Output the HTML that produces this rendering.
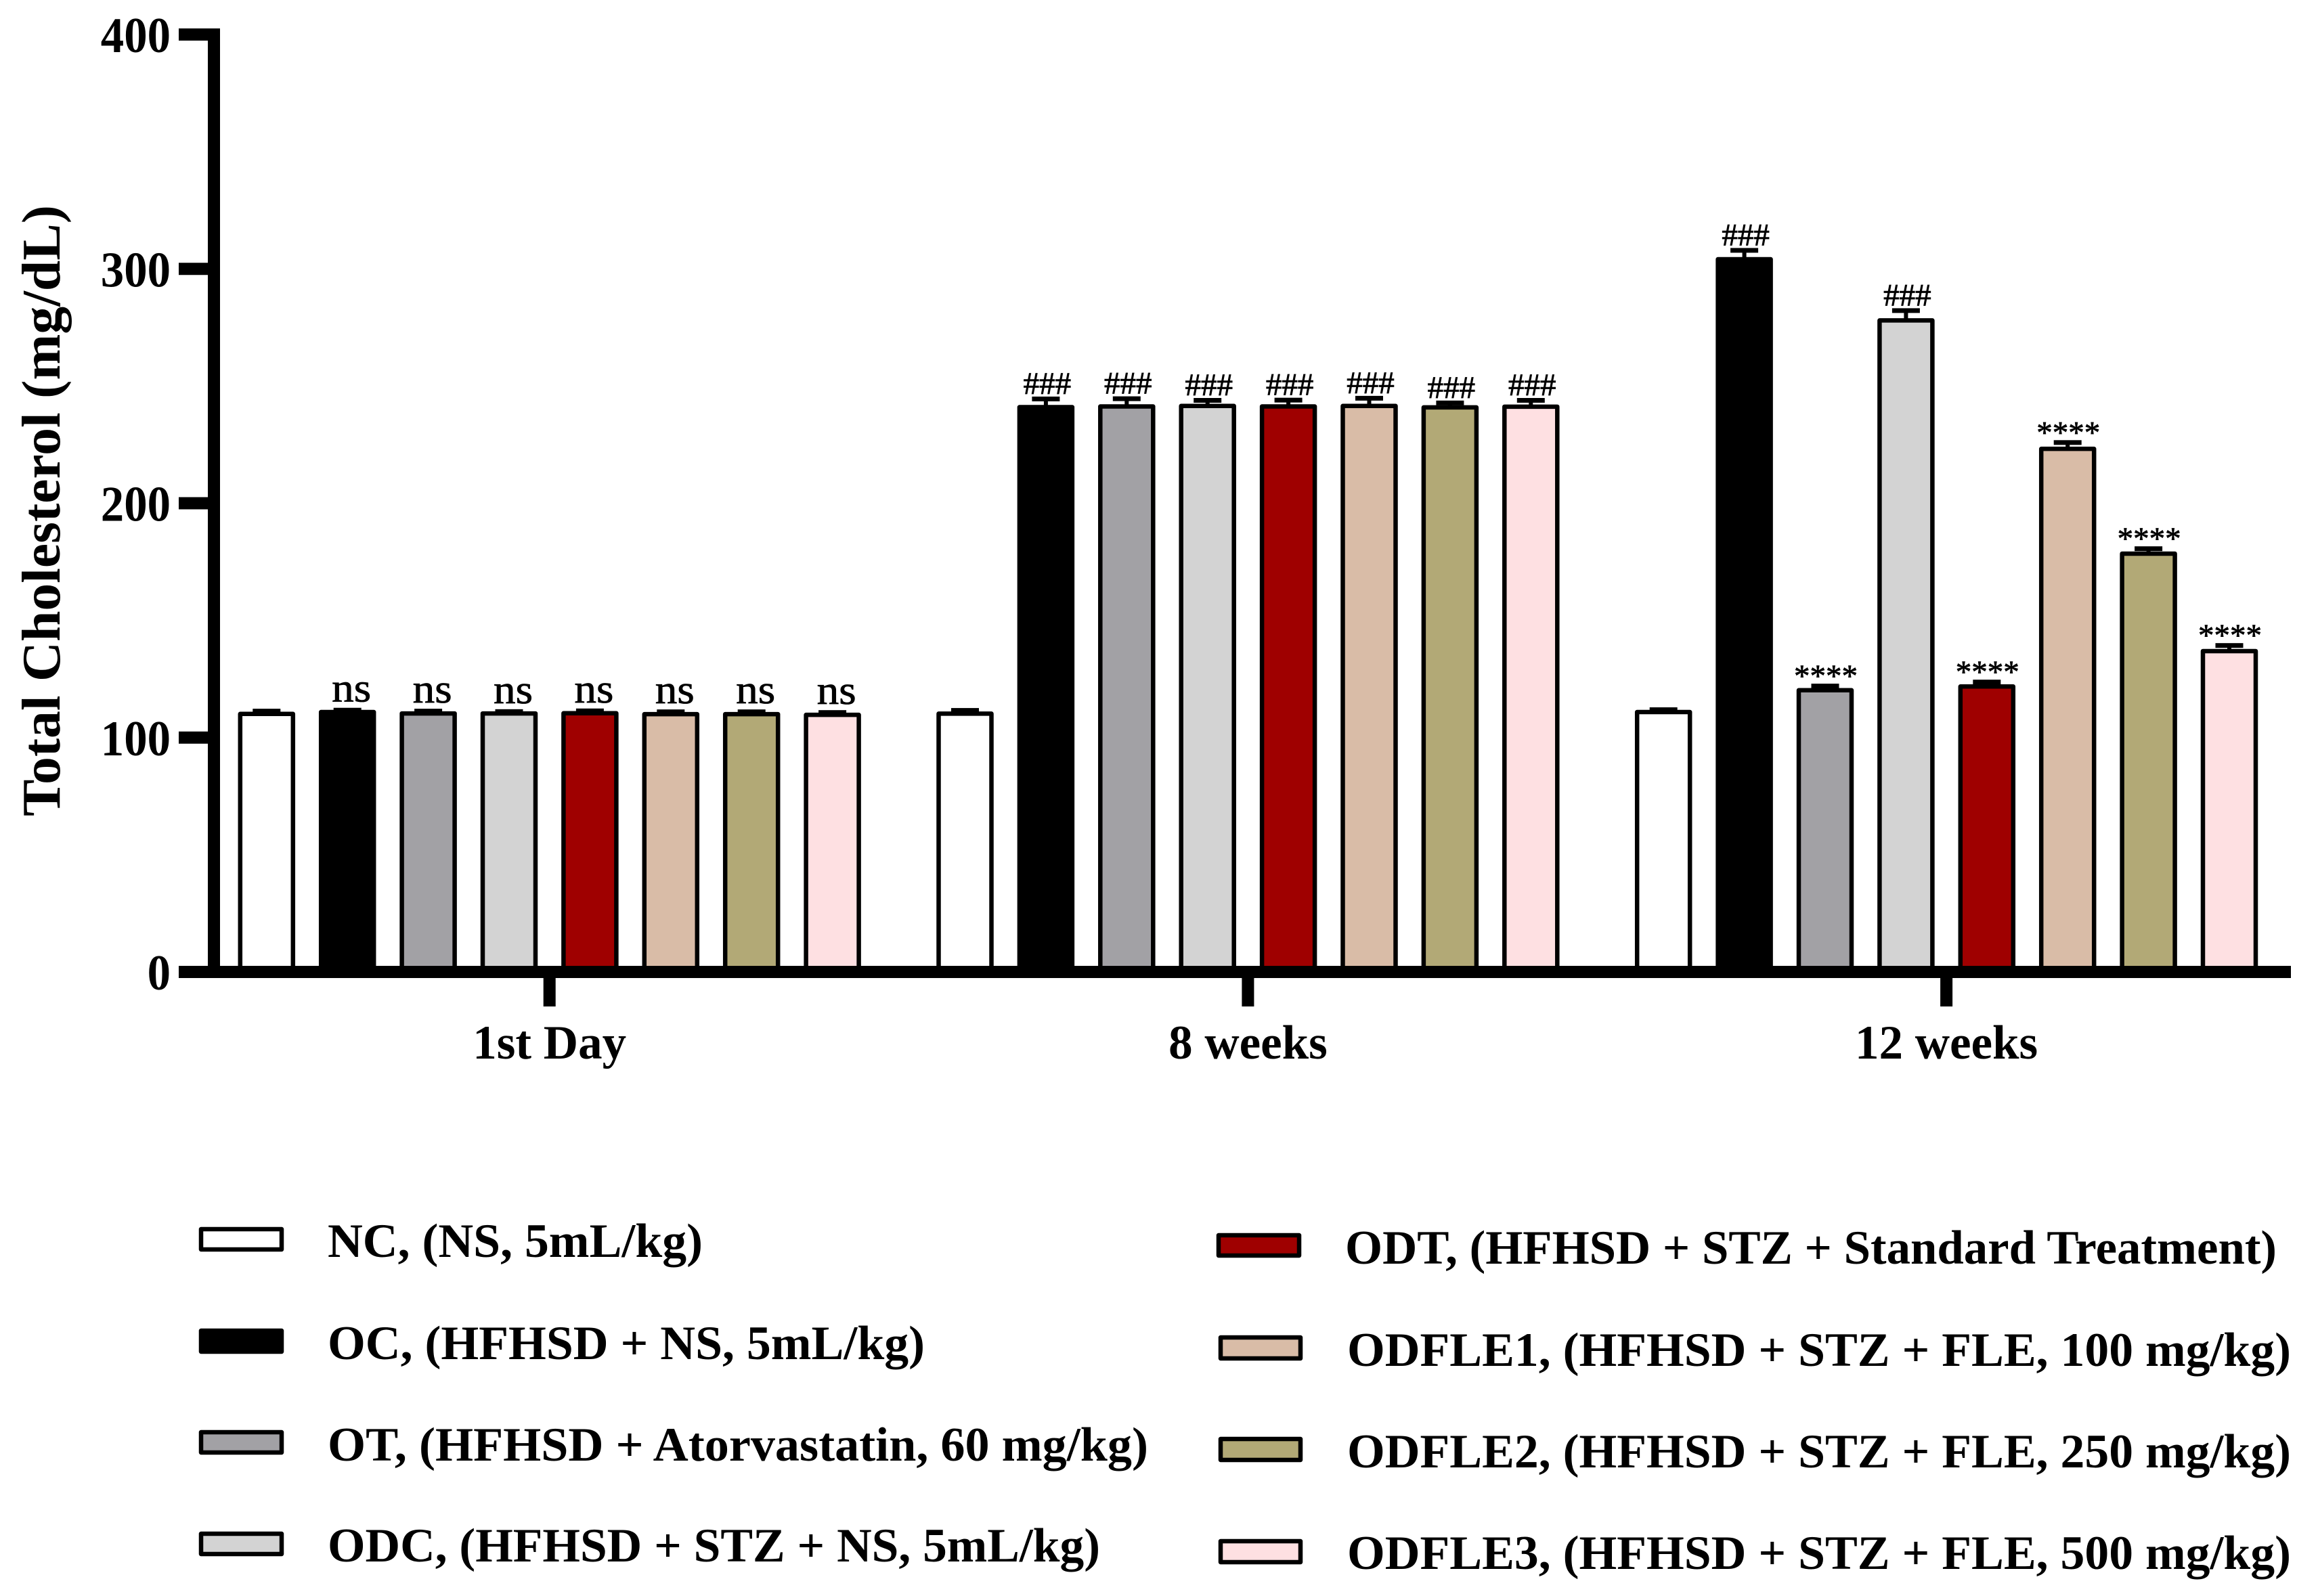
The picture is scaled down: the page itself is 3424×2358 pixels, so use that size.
<!DOCTYPE html>
<html lang="en">
<head>
<meta charset="utf-8">
<title>Total Cholesterol bar chart</title>
<style>
html,body{margin:0;padding:0;background:#fff;width:3424px;height:2358px;overflow:hidden}
svg{display:block}
text{font-family:"Liberation Serif",serif;fill:#000}
.b{font-weight:bold}
.ann{font-weight:normal;stroke:#000;stroke-width:0.8}
.mark{stroke:#000;stroke-width:6.5;stroke-linejoin:round}
.s0{fill:#ffffff}.s1{fill:#000000}.s2{fill:#a2a1a5}.s3{fill:#d3d3d3}
.s4{fill:#9f0000}.s5{fill:#d9bca7}.s6{fill:#b2a976}.s7{fill:#fee0e2}
</style>
</head>
<body>
<svg id="chart" xmlns="http://www.w3.org/2000/svg" width="3424" height="2358" viewBox="0 0 3424 2358">
  <rect x="0" y="0" width="3424" height="2358" fill="#fff"/>
  <g id="bars"></g>
  <g id="axes"></g>
  <g id="annotations"></g>
  <text class="b" font-size="80" transform="translate(88,1206) rotate(-90)" textLength="903" lengthAdjust="spacingAndGlyphs">Total Cholesterol (mg/dL)</text>

  <g>
    <g>
      <rect class="mark s0" x="297" y="1816" width="119" height="30"/>
      <text class="b" font-size="71" x="484" y="1857" textLength="554" lengthAdjust="spacingAndGlyphs">NC, (NS, 5mL/kg)</text>
    </g>
    <g>
      <rect class="mark s1" x="297" y="1966" width="119" height="31"/>
      <text class="b" font-size="71" x="484" y="2008" textLength="882" lengthAdjust="spacingAndGlyphs">OC, (HFHSD + NS, 5mL/kg)</text>
    </g>
    <g>
      <rect class="mark s2" x="297" y="2116" width="119" height="30"/>
      <text class="b" font-size="71" x="484" y="2158" textLength="1212" lengthAdjust="spacingAndGlyphs">OT, (HFHSD + Atorvastatin, 60 mg/kg)</text>
    </g>
    <g>
      <rect class="mark s3" x="297" y="2266" width="119" height="30"/>
      <text class="b" font-size="71" x="484" y="2307" textLength="1141" lengthAdjust="spacingAndGlyphs">ODC, (HFHSD + STZ + NS, 5mL/kg)</text>
    </g>
    <g>
      <rect class="mark s4" x="1800" y="1825" width="119" height="30"/>
      <text class="b" font-size="71" x="1987" y="1867" textLength="1376" lengthAdjust="spacingAndGlyphs">ODT, (HFHSD + STZ + Standard Treatment)</text>
    </g>
    <g>
      <rect class="mark s5" x="1803" y="1976" width="118" height="31"/>
      <text class="b" font-size="71" x="1990" y="2018" textLength="1394" lengthAdjust="spacingAndGlyphs">ODFLE1, (HFHSD + STZ + FLE, 100 mg/kg)</text>
    </g>
    <g>
      <rect class="mark s6" x="1803" y="2126" width="118" height="31"/>
      <text class="b" font-size="71" x="1990" y="2168" textLength="1394" lengthAdjust="spacingAndGlyphs">ODFLE2, (HFHSD + STZ + FLE, 250 mg/kg)</text>
    </g>
    <g>
      <rect class="mark s7" x="1803" y="2277" width="118" height="31"/>
      <text class="b" font-size="71" x="1990" y="2318" textLength="1394" lengthAdjust="spacingAndGlyphs">ODFLE3, (HFHSD + STZ + FLE, 500 mg/kg)</text>
    </g>
  </g>
</svg>
<script>
// ---- chart data ----
var categories = ['1st Day', '8 weeks', '12 weeks'];
var seriesNames = ['nc', 'oc', 'ot', 'odc', 'odt', 'odfle1', 'odfle2', 'odfle3'];
var yTickLabels = ['0', '100', '200', '300', '400'];

var valuesFirstDay = [110.1, 110.9, 110.3, 110.3, 110.4, 110.0, 110.0, 109.7];
var valuesWeek8 = [110.2, 241.0, 241.3, 241.5, 241.3, 241.5, 240.9, 241.2];
var valuesWeek12 = [110.9, 304.1, 120.2, 278.0, 121.8, 223.2, 178.5, 136.9];

var errorsFirstDay = [1.2, 0.8, 1.0, 0.8, 1.0, 1.0, 1.0, 1.0];
var errorsWeek8 = [1.4, 3.5, 3.3, 2.4, 2.7, 3.3, 1.9, 2.7];
var errorsWeek12 = [1.0, 3.8, 1.8, 4.2, 1.9, 2.7, 2.1, 2.4];

var marksFirstDay = ['', 'ns', 'ns', 'ns', 'ns', 'ns', 'ns', 'ns'];
var marksWeek8 = ['', '###', '###', '###', '###', '###', '###', '###'];
var marksWeek12 = ['', '###', '****', '###', '****', '****', '****', '****'];

var groupValues = [valuesFirstDay, valuesWeek8, valuesWeek12];
var groupErrors = [errorsFirstDay, errorsWeek8, errorsWeek12];
var groupMarks = [marksFirstDay, marksWeek8, marksWeek12];

// ---- axis functions ----
var Y_ZERO = 1436, Y_PER_UNIT = 3.4625;
var X_FIRST_GROUP = 811.7, GROUP_STEP = 1031.7, BAR_STEP = 119.4;
function yScale(v) { return Y_ZERO - v * Y_PER_UNIT; }
function groupX(g) { return X_FIRST_GROUP + g * GROUP_STEP; }
function barX(g, i) { return groupX(g) + (i - (seriesNames.length - 1) / 2) * BAR_STEP; }

var NS = 'http://www.w3.org/2000/svg';
function mk(tag, attrs, parent) {
  var el = document.createElementNS(NS, tag);
  for (var k in attrs) el.setAttribute(k, attrs[k]);
  parent.appendChild(el);
  return el;
}

var barsG = document.getElementById('bars');
var axesG = document.getElementById('axes');
var annG = document.getElementById('annotations');

// ---- bars, error bars, annotations ----
var BAR_W = 78, CAP_W = 41, CAP_H = 7, STEM_W = 6;
categories.forEach(function (cat, g) {
  seriesNames.forEach(function (name, i) {
    var v = groupValues[g][i], e = groupErrors[g][i], label = groupMarks[g][i];
    var cx = barX(g, i);
    var capY = yScale(v + e);

    var stem = mk('rect', { x: cx - STEM_W / 2, y: capY, width: STEM_W, height: yScale(v) - capY, fill: '#000' }, barsG);
    
    

    var cap = mk('rect', { x: cx - CAP_W / 2, y: capY - CAP_H / 2, width: CAP_W, height: CAP_H, fill: '#000' }, barsG);
    
    

    var bar = mk('rect', { x: cx - BAR_W / 2, y: yScale(v), width: BAR_W, height: yScale(0) - yScale(v), 'class': 'mark s' + i }, barsG);
    
    

    if (label) {
      var capTop = capY - CAP_H / 2, t;
      if (label === 'ns') {
        t = mk('text', { 'class': 'ann', 'font-size': 60, x: cx + 6, y: capTop - 9, 'text-anchor': 'middle', textLength: 58, lengthAdjust: 'spacingAndGlyphs' }, annG);
      } else if (label === '###') {
        t = mk('text', { 'class': 'ann', 'font-size': 47, x: cx + 2, y: capTop - 4, 'text-anchor': 'middle' }, annG);
      } else {
        t = mk('text', { 'class': 'ann', 'font-size': 47, x: cx + 1, y: capTop + 4, 'text-anchor': 'middle' }, annG);
      }
      t.textContent = label;
      
      
    }
  });
});

// ---- axes ----
var AXIS_T = 18;
var yAxisLine = mk('rect', { x: 307, y: yScale(400) - AXIS_T / 2, width: AXIS_T, height: yScale(0) - yScale(400) + AXIS_T, fill: '#000' }, axesG);



var xAxisLine = mk('rect', { x: 264, y: yScale(0) - AXIS_T / 2, width: 3384 - 264, height: AXIS_T, fill: '#000' }, axesG);



yTickLabels.forEach(function (label) {
  var v = Number(label);
  var tick = mk('rect', { x: 264, y: yScale(v) - AXIS_T / 2, width: 307 - 264, height: AXIS_T, fill: '#000' }, axesG);
  
  

  var t = mk('text', { 'class': 'b', 'font-size': 74, x: 252, y: yScale(v) + 26, 'text-anchor': 'end', textLength: label.length * 34.4, lengthAdjust: 'spacingAndGlyphs' }, axesG);
  t.textContent = label;
  
  
});

categories.forEach(function (cat, g) {
  var tick = mk('rect', { x: groupX(g) - 9, y: yScale(0) + AXIS_T / 2, width: AXIS_T, height: 42, fill: '#000' }, axesG);
  
  

  var t = mk('text', { 'class': 'b', 'font-size': 71, x: groupX(g), y: 1564, 'text-anchor': 'middle' }, axesG);
  t.textContent = cat;
  
  
});
</script>
</body>
</html>
